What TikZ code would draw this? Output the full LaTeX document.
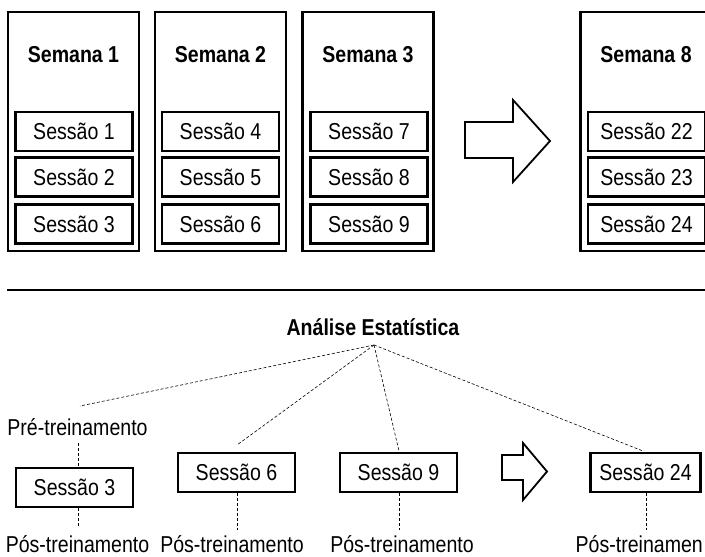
\documentclass[tikz,border=0pt]{standalone}
\usepackage{fontspec}
\setmainfont{Liberation Sans}[FakeStretch=0.85]
\begin{document}
\begin{tikzpicture}[x=1pt,y=-1pt,
  txt/.style={font=\fontsize{23}{27}\selectfont, text height=16.4pt, text depth=0pt, inner sep=0pt},
  week/.style={draw, line width=2.6pt, minimum width=131pt, minimum height=239pt, inner sep=0pt},
  sess/.style={txt, draw, line width=2.2pt, minimum width=117pt, minimum height=39pt},
  bsess/.style={txt, draw, line width=2.6pt, minimum width=117pt, minimum height=39pt},
  wtitle/.style={txt, font=\fontsize{23}{27}\selectfont\bfseries},
  lbl/.style={txt},
  dl/.style={densely dashed, line width=0.6pt},
  fatarrow/.style={draw, line width=1.8pt, line join=miter, fill=white}
]
\useasboundingbox (0,0) rectangle (705,557);
\clip (0,0) rectangle (705,557);

% weeks
\node[week] (w1) at (73.5,131.5) {};
\node[week] (w2) at (220.5,131.5) {};
\node[week] (w3) at (368,131.5) {};
\node[week] (w8) at (646,131.5) {};

\node[wtitle] (t1) at (73.5,54) {Semana 1};
\node[wtitle] (t2) at (220.5,54) {Semana 2};
\node[wtitle] (t3) at (368,54) {Semana 3};
\node[wtitle] (t8) at (646,54) {Semana 8};

\node[sess] (s1) at (74,131.5) {Sessão 1};
\node[sess] (s2) at (74,177) {Sessão 2};
\node[sess] (s3) at (74,224) {Sessão 3};
\node[sess] (s4) at (220.5,131.5) {Sessão 4};
\node[sess] (s5) at (220.5,177) {Sessão 5};
\node[sess] (s6) at (220.5,224) {Sessão 6};
\node[sess] (s7) at (369,131.5) {Sessão 7};
\node[sess] (s8) at (369,177) {Sessão 8};
\node[sess] (s9) at (369,224) {Sessão 9};
\node[sess] (s22) at (646.5,131.5) {Sessão 22};
\node[sess] (s23) at (646.5,177) {Sessão 23};
\node[sess] (s24) at (646.5,224) {Sessão 24};

% big arrow
\path[fatarrow] (465,122) -- (513,122) -- (513,100) -- (550,141) -- (513,182) -- (513,158) -- (465,158) -- cycle;

% separator
\coordinate (hl) at (7,290);
\coordinate (hr) at (710,290);
\draw[line width=2.6pt] (hl) -- (hr);

% bottom
\node[txt, font=\fontsize{23}{27}\selectfont\bfseries] (an) at (373,327.5) {Análise Estatística};
\coordinate (apex) at (374,345);

\node[lbl] (pre) at (77.5,427) {Pré-treinamento};
\node[bsess] (b3) at (74.5,487.5) {Sessão 3};
\node[bsess] (b6) at (236.5,472.5) {Sessão 6};
\node[bsess] (b9) at (398.5,472.5) {Sessão 9};
\node[bsess, minimum width=110pt] (b24) at (645.5,472.5) {Sessão 24};

\node[lbl] (p3) at (77.5,544) {Pós-treinamento};
\node[lbl] (p6) at (232,544) {Pós-treinamento};
\node[lbl] (p9) at (402,544) {Pós-treinamento};
\node[lbl, anchor=east] (p24) at (703,544) {Pós-treinamen};

% small arrow
\path[fatarrow] (502,455) -- (523,455) -- (523,443) -- (547,471.5) -- (523,500) -- (523,480) -- (502,480) -- cycle;

% dashed links from analysis
\coordinate (e1) at (80,406);
\coordinate (e2) at (237,445);
\coordinate (e3) at (399,451);
\coordinate (e4) at (643,451);
\draw[dl] (apex) -- (e1);
\draw[dl] (apex) -- (e2);
\draw[dl] (apex) -- (e3);
\draw[dl] (apex) -- (e4);

% vertical dashed
\coordinate (v1a) at (78,443);
\draw[dl] (v1a) -- (v1a |- b3.north);
\coordinate (v1b) at (78,528);
\draw[dl] (v1b |- b3.south) -- (v1b);
\coordinate (v2) at (237,530);
\draw[dl] (v2 |- b6.south) -- (v2);
\coordinate (v3) at (399,530);
\draw[dl] (v3 |- b9.south) -- (v3);
\coordinate (v4) at (646,530);
\draw[dl] (v4 |- b24.south) -- (v4);
\end{tikzpicture}
\end{document}
